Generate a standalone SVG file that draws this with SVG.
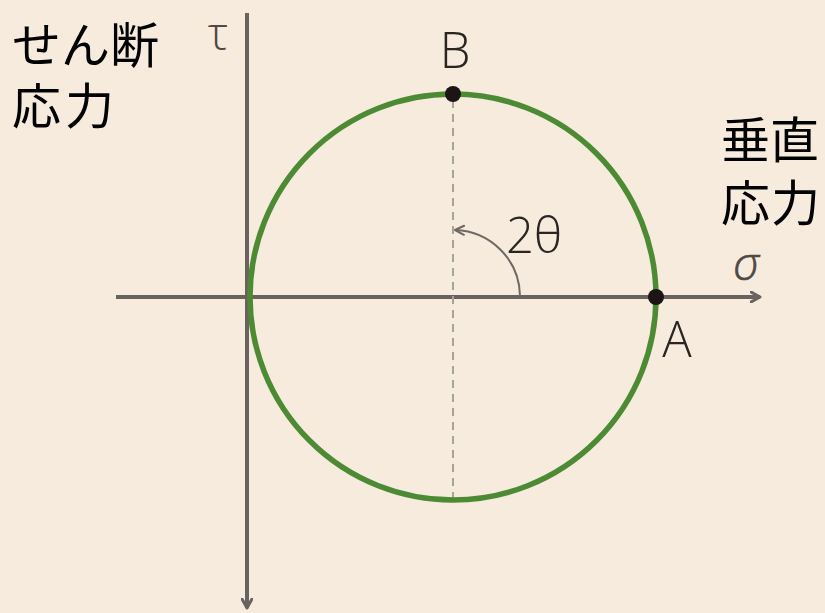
<svg xmlns="http://www.w3.org/2000/svg" width="825" height="613" viewBox="0 0 825 613">
<defs>
<style>
.axis{stroke:#6a625f;stroke-width:4;fill:none}
.circle{stroke:#4d8a34;stroke-width:5.5;fill:none}
.dash{stroke:#a8a29c;stroke-width:2;stroke-dasharray:8 6;fill:none}
.angle{stroke:#6f6864;stroke-width:2;fill:none}
.jp{font-family:"Noto Sans CJK JP","Noto Sans",sans-serif;font-size:49px;fill:#000}
.lbl{font-family:"Open Sans","Noto Sans",sans-serif;font-weight:300;font-size:49px;fill:#2a2522}
.greek{font-family:"Open Sans","Noto Sans",sans-serif;font-weight:300;fill:#4f4843}
.dot{fill:#1c1514}
</style>
<marker id="ah" viewBox="0 0 12 12" refX="10" refY="6" markerWidth="12" markerHeight="12" markerUnits="userSpaceOnUse" orient="auto">
<path d="M1,1 L10,6 L1,11" fill="none" stroke="#6a625f" stroke-width="3" stroke-linecap="round" stroke-linejoin="round"/>
</marker>
<marker id="ahs" viewBox="0 0 12 12" refX="10" refY="6" markerWidth="12" markerHeight="12" markerUnits="userSpaceOnUse" orient="auto">
<path d="M1,1.5 L10,6 L1,10.5" fill="none" stroke="#6f6864" stroke-width="2" stroke-linecap="round" stroke-linejoin="round"/>
</marker>
</defs>
<rect width="825" height="613" fill="#f6ebdd"/>
<g id="connectors">
<line class="axis" x1="116" y1="297" x2="760" y2="297" marker-end="url(#ah)"/>
<line class="axis" x1="247" y1="13" x2="247" y2="608" marker-end="url(#ah)"/>
<line class="dash" x1="453" y1="100" x2="453" y2="498"/>
<path class="angle" d="M520,296 A67,67 0 0 0 455,230" marker-end="url(#ahs)"/>
</g>
<g id="mohr-circle">
<circle class="circle" cx="453" cy="297" r="203"/>
</g>
<g id="point-B">
<circle class="dot" cx="453" cy="94" r="8"/>
<text class="lbl" x="455" y="68" text-anchor="middle">B</text>
</g>
<g id="point-A">
<circle class="dot" cx="656" cy="297" r="8"/>
<text class="lbl" x="677" y="357" text-anchor="middle">A</text>
</g>
<g id="angle-label">
<text class="lbl" x="534" y="253" text-anchor="middle" font-size="46">2θ</text>
</g>
<g id="tau-label">
<text class="greek" x="218" y="50" text-anchor="middle" font-size="46">τ</text>
</g>
<g id="sigma-label">
<text class="greek" x="746" y="280" text-anchor="middle" font-size="46" font-style="italic" stroke="#4f4843" stroke-width="0.6">σ</text>
</g>
<g id="shear-stress-label">
<text class="jp" x="12" y="63">せん断</text>
<text class="jp" x="12" y="124" letter-spacing="4">応力</text>
</g>
<g id="normal-stress-label">
<text class="jp" x="721" y="158">垂直</text>
<text class="jp" x="721" y="221" letter-spacing="1">応力</text>
</g>
</svg>
